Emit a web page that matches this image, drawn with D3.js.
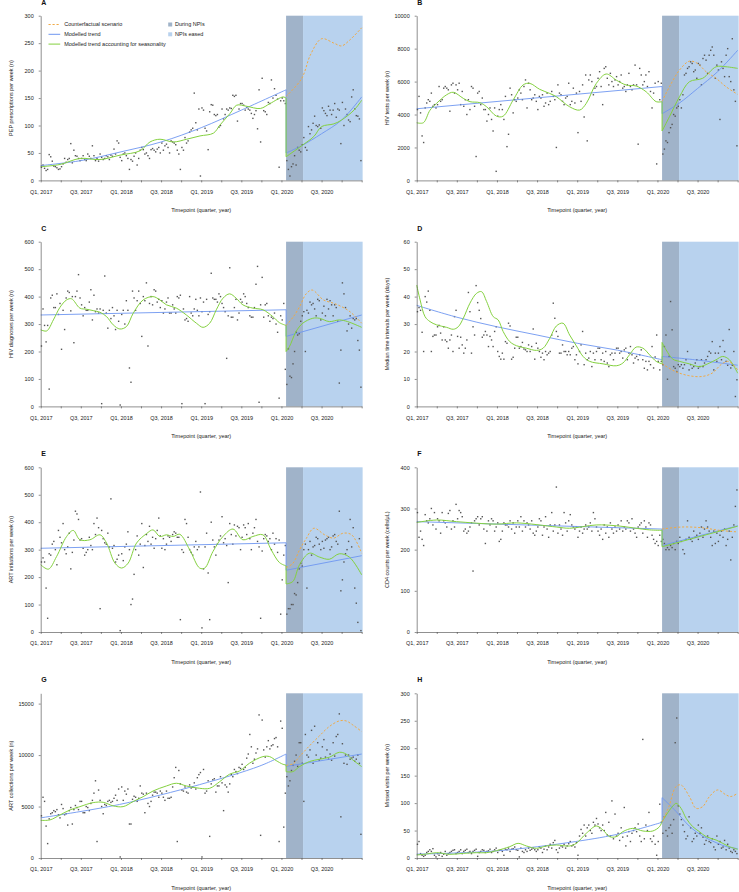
<!DOCTYPE html>
<html>
<head>
<meta charset="utf-8">
<script src="https://cdn.jsdelivr.net/npm/d3@7"></script>
<style>
    body { margin: 0; background: #fff; }
    svg { font-family: 'Liberation Sans', Arial, sans-serif; }
</style>
</head>
<body>
<svg id="chart" width="739" height="892"></svg>
<script>

// Quarter ticks (13 weeks each), labelled every other quarter
const QUARTER_LABELS = ['Q1, 2017', 'Q3, 2017', 'Q1, 2018', 'Q3, 2018', 'Q1, 2019', 'Q3, 2019', 'Q1, 2020', 'Q3, 2020']
const TOTAL_WEEKS = 208
const NPI_START = 159   // week index, late Jan 2020
const NPI_END = 170     // NPIs eased, early Apr 2020

// Weekly observations, one row per quarter (13 weeks)
const ptsA = [
    24,28,22,18,20,47,43,35,26,25,23,20,21,
    25,30,40,33,38,40,67,32,55,45,44,40,36,
    40,45,38,36,48,44,40,63,45,36,40,35,48,
    42,38,40,45,43,38,46,44,57,48,72,68,42,
    36,48,50,45,40,20,38,35,44,50,28,40,55,
    60,56,48,50,45,40,56,58,55,52,57,60,50,
    68,55,63,66,60,50,72,70,68,65,55,48,20,
    60,55,78,68,72,88,92,95,159,105,92,130,8,
    132,128,95,90,56,125,138,137,120,118,120,97,100,
    130,112,120,130,128,132,131,155,153,155,108,130,140,
    140,137,128,133,130,128,122,113,120,127,94,165,70,
    186,127,125,120,142,140,183,150,167,155,148,24,145,
    150,145,140,36,20,8,25,30,45,28,60,55,52,
    65,78,60,55,98,85,92,104,117,100,98,101,95,
    132,127,122,118,135,128,120,128,140,115,130,128,67,
    142,100,130,120,110,107,152,165,130,118,117,112,36
]
const ptsB = [
    4300,5100,4100,2700,2300,4400,4700,4900,4800,5300,4500,4600,4400,
    4600,5700,4800,4900,5600,5700,5600,5500,4200,5800,5900,5300,5800,
    5500,5900,4600,5400,4500,4900,4000,4900,4300,5700,5600,4500,1450,
    5300,5400,4600,5000,4300,4300,3600,4000,4400,3700,3000,4400,550,
    3900,4300,4600,4300,3700,5100,2050,2800,5600,5200,4100,4900,4800,
    5000,5500,5300,4900,5700,6100,4400,5900,5500,4900,5000,5200,4800,
    4300,5100,5000,5200,4500,4700,5300,4600,4800,5400,5100,4900,2000,
    5800,5300,5200,4800,4600,5000,5100,5900,4600,4800,5600,4700,5300,
    2900,5400,4800,5800,3850,6400,2400,6100,6400,6000,5200,5600,5700,
    6200,6600,5700,4600,6800,6900,6200,5800,6500,6000,5700,6100,6300,
    5800,6000,6400,5600,5700,5400,5800,6500,5700,5500,5800,7000,5800,
    2200,6800,6400,5800,6000,6400,5700,6600,5400,4400,5300,5900,1000,
    6000,4900,5900,1600,1900,2400,2300,2900,3200,3400,4000,3900,4400,
    4500,4900,4400,5200,6400,6500,6800,6900,7200,7100,6600,6700,6200,
    7100,7000,5800,7400,7600,7300,6500,7600,7900,8100,7600,6200,7000,
    6700,3700,7200,6800,6300,7600,8000,6300,6000,8600,5500,4800,2100
]
const ptsC = [
    220,355,295,235,295,63,395,405,360,360,410,335,375,
    208,350,280,395,420,415,348,400,232,400,420,480,395,
    370,330,360,350,350,380,425,315,405,345,355,340,355,
    10,350,475,340,285,350,320,360,330,280,350,310,5,
    335,350,300,385,350,140,88,420,395,350,385,420,375,
    255,400,385,450,220,375,400,370,425,420,380,390,360,
    385,340,355,380,395,340,340,370,355,340,400,395,405,
    10,355,315,320,310,400,340,330,355,390,350,330,395,
    345,380,10,390,335,345,485,395,390,390,380,410,400,
    375,360,345,175,330,505,325,325,360,390,315,340,390,
    380,410,400,375,360,330,325,325,360,445,510,15,370,
    470,325,370,375,330,310,325,320,340,300,270,30,330,
    315,375,135,80,210,110,105,155,200,270,260,265,310,
    330,345,200,350,340,380,370,375,355,330,390,385,315,
    340,365,330,390,355,385,370,330,370,360,310,85,205,
    450,410,360,275,300,330,285,320,315,320,240,205,70
]
const ptsD = [
    34.5,36,35,27,20,40,38,42,35,20,25.5,26,26,
    29,29.5,26.7,24.2,29,24.2,23.6,21.2,24.2,26,20,32.7,35,
    25.5,21.2,25.2,22.4,19.4,21.2,24.2,41.5,34.5,19.4,29,26,44,
    37.8,35,32,25.2,26,27.3,26,21.8,25.5,24.2,21.8,27.3,29,
    20,18.2,17.2,19.4,17.2,23.6,23,30.3,29.3,17.2,17.9,21.2,25.2,
    25.2,21.2,21.8,23.3,20.9,20.6,20,22.4,20,21.8,28.2,17.2,23,
    21.2,20,17.9,19.4,17,20,18.8,19.4,20,26,37.6,32.1,27.3,
    25.5,19.4,19.4,22.4,20,20,18.8,20,18.8,21.2,21.8,17,18.8,
    15.5,20,22.4,27.3,15.2,19.4,17,17.6,20,14.5,19.4,17,20,
    21.2,21.2,17,19.4,16.4,20,15.8,14.5,18.8,19.4,17,19.4,21.2,
    21.2,19.4,20,17.6,20.6,21.2,17,19.4,21.8,18.8,15.8,17.6,18.2,
    17,18.8,20.6,17,13.9,16.4,13.3,16.4,15.2,21.8,14,18,26,
    16.4,13.3,16.4,15.2,21.8,26,9.9,18.2,38.2,27.9,14.5,13.9,12.7,
    15.2,14.5,15.2,13.9,15.2,17,20,13.3,15.2,13.9,14.5,15.8,17,
    13.9,14.5,17,14.5,15.8,17,18.2,20,19.4,23.6,13.3,19.4,16.4,
    19.4,21.8,17,24,20,16.4,15,28,14,15,20,3.6,9.7
]
const ptsE = [
    255,270,255,160,50,285,280,320,330,300,245,370,345,
    325,395,300,285,310,360,230,290,335,440,430,410,335,
    340,305,280,290,300,345,315,300,395,355,415,380,85,
    370,340,325,320,360,310,485,305,315,255,265,280,5,
    285,260,310,320,365,300,100,120,210,300,350,280,320,
    395,235,315,355,330,385,320,345,305,340,370,415,350,
    305,340,300,320,350,345,330,355,365,360,345,345,45,
    300,290,410,395,345,300,290,280,310,330,300,310,510,
    15,230,310,360,215,45,400,335,310,280,320,335,350,
    420,325,340,315,180,395,355,320,390,350,385,380,300,
    345,390,380,355,395,340,300,360,380,410,330,310,50,
    295,340,355,350,330,340,300,360,320,340,290,335,65,
    190,280,315,65,85,85,100,100,140,135,180,230,250,
    240,300,320,160,300,330,280,310,315,345,340,320,300,
    330,305,335,340,345,300,310,350,355,330,320,440,150,
    190,255,285,300,330,410,310,380,160,105,35,340,5
]
const ptsF = [
    290,230,245,225,210,285,270,265,275,300,260,290,250,
    275,270,240,290,270,265,255,288,295,250,270,255,310,
    275,295,290,280,245,250,240,245,255,265,148,270,275,
    280,260,275,280,250,215,245,270,260,275,270,245,255,
    265,220,225,245,265,260,260,255,270,250,265,240,255,
    270,255,280,245,270,255,265,260,250,270,240,235,245,
    255,275,270,235,255,280,250,230,260,290,245,260,352,
    240,260,250,235,290,265,245,270,285,260,255,250,255,
    230,245,255,240,250,260,250,255,265,245,290,275,255,
    245,235,250,225,260,240,255,230,265,250,240,255,245,
    260,250,270,245,255,250,270,265,245,275,250,240,230,
    255,260,265,240,270,255,230,265,260,235,225,215,220,
    210,235,220,225,215,200,205,200,210,205,215,200,220,
    215,230,220,200,190,225,270,230,225,220,245,230,235,
    225,240,255,230,250,270,255,245,230,210,245,215,240,
    220,235,245,230,250,210,225,245,175,230,260,305,345
]
const ptsG = [
    4100,5900,5500,3100,1400,3800,4300,4400,4600,4500,4700,4200,3900,
    5200,4800,4200,4300,3200,4600,4900,3300,4700,5100,4900,4700,5500,
    5500,4400,4400,5000,4900,4600,5300,5600,6300,7500,1600,6600,5600,
    5000,4300,5200,5100,5500,5600,5400,5500,5800,6100,5600,6700,100,
    6900,5600,6500,6200,6700,3300,3300,5700,6000,5900,5500,5800,7000,
    6300,6200,4400,6300,5300,5000,5500,6100,6400,6400,6300,5900,6500,
    6300,5900,5600,6500,5800,5800,5900,6900,7800,8800,1600,8500,7200,
    6600,6500,6900,6400,6300,7100,6800,6900,7300,6700,7800,8100,8300,
    100,8600,6300,6500,7500,2100,7200,7600,7700,6400,7000,7000,7900,
    7300,4600,7100,6900,6400,7200,8100,7900,8600,8400,8200,8800,8700,
    9100,8600,8800,9700,10100,12000,10800,9200,9600,10200,10600,13900,2200,
    13400,10500,9800,10800,11400,10600,10900,11000,11600,11700,10800,1600,13300,
    12600,3000,6300,7900,7000,7500,8500,9000,9400,10000,8900,11200,11200,
    9200,5500,12000,10000,9800,10500,12400,9200,12800,10000,11200,9500,9700,
    10800,11500,9800,10500,9600,10100,9500,11200,9900,11800,12000,14000,4000,
    11100,9200,10000,9100,10000,9600,9700,9800,9400,9600,10000,9200,2300
]
const ptsH = [
    25,30,8,5,3,5,10,12,15,12,17,5,2,
    8,5,10,3,7,12,5,8,10,12,14,15,8,
    10,12,15,8,12,14,16,10,12,8,12,14,16,
    3,10,12,15,14,10,12,13,16,10,12,15,18,
    10,14,15,12,5,16,15,18,12,16,17,20,15,
    14,2,18,12,10,15,12,18,14,16,18,15,12,
    15,20,18,10,16,22,15,20,25,18,28,32,15,
    10,18,22,20,25,18,22,26,30,22,24,20,28,
    5,40,52,45,60,40,55,60,50,45,65,60,72,
    62,55,50,60,50,83,42,65,40,104,35,80,40,
    45,32,55,38,92,22,40,48,30,45,50,55,48,
    62,40,30,216,35,60,50,83,35,30,40,25,5,
    30,98,65,45,75,50,40,55,60,45,70,210,255,
    95,80,70,60,48,35,40,75,55,30,35,45,40,
    60,45,55,38,25,32,40,30,28,35,20,15,40,
    25,30,18,20,32,15,25,18,12,10,15,12,8
]

// Modelled lines as [week, value] knots
const trendPreA = [[0,27],[26,36],[52,52],[78,70],[104,96],[130,128],[159,165]]
const trendPostA = [[159,50],[169,63],[182,85],[195,110],[208,152]]
const seasPreA = [[0,25],[12.5,29],[25.5,40],[38.4,38],[51.4,46],[64.4,54],[70.8,70],[77.3,75],[86,70],[94.6,75],[103.2,81],[111.9,86],[116.2,101],[122.7,122],[127,137],[133.5,135],[142.3,131],[148.6,140],[157,152],[159,150]]
const seasPostA = [[159,43],[169,63],[177,80],[182,98],[190,103],[195,110],[203,128],[208,146]]
const cfA = [[159,153],[169,185],[175,230],[182,258],[190,250],[195,245],[200,255],[208,278]]

const trendPreB = [[0,4350],[159,5700]]
const trendPostB = [[159,4050],[170,4680],[182,5580],[195,6600],[208,7900]]
const seasPreB = [[0,3500],[4.3,3500],[8.6,4260],[12.9,4680],[19.4,5200],[23.7,5350],[30.2,4980],[34.5,4780],[40.9,4720],[45.3,4470],[51.7,3900],[56,3900],[62.5,4880],[69,5800],[73.3,5890],[79.7,5530],[86.2,5280],[90.5,5080],[99.1,4470],[105.6,4270],[109.9,4680],[116.4,5890],[122.8,6460],[129.3,6090],[135.8,5790],[142.2,5730],[148.7,5380],[155.2,4780],[159,4780]]
const seasPostB = [[159,3000],[163.8,3870],[170.3,5080],[176.7,5990],[185.3,6200],[194,6900],[200.4,6900],[208,6800]]
const cfB = [[159,4800],[163.8,5690],[170.3,6700],[176.7,7240],[182,7100],[187.5,6600],[194,6200],[200.4,5690],[208,5220]]

const trendPreC = [[0,333],[159,352]]
const trendPostC = [[159,255],[208,333]]
const seasPreC = [[0,279],[3.9,275],[8.2,315],[12.5,361],[16.8,388],[20,392],[25.4,358],[29.7,354],[34,349],[38.4,343],[42.7,327],[47,297],[51.3,282],[55.6,291],[59.9,339],[66.4,388],[72.8,400],[77.2,388],[81.5,370],[87.9,358],[94.4,333],[100.9,303],[105.2,288],[109.5,303],[113.8,352],[118.1,394],[122.4,410],[126.7,394],[131,370],[137.5,358],[144,352],[150.4,327],[154.7,305],[159,295]]
const seasPostC = [[159,200],[161.2,218],[165.5,273],[169.8,303],[176.3,321],[180.6,321],[187,309],[193.5,315],[198.9,309],[204.3,297],[208,288]]
const cfC = [[159,295],[163.8,327],[168,366],[172,410],[175.9,424],[183.2,388],[189.7,376],[194,366],[200.4,345],[208,303]]

const trendPreD = [[0,36.8],[26,32.5],[52,29],[78,26],[104,23],[130,20.5],[159,17]]
const trendPostD = [[159,18.2],[180,17],[208,15]]
const seasPreD = [[0,44.2],[2.2,38.8],[5.4,32.7],[8.6,30.9],[12.9,29.7],[19.4,28.8],[23.7,28.1],[26.9,29],[30.2,32.1],[34.5,37.6],[38.8,41.2],[42,41.8],[45.3,38.2],[49.6,32.7],[52.8,31.5],[56,27.3],[60.3,23.6],[64.7,22.1],[71.1,21.2],[77.6,20.4],[81.9,21.2],[86.2,24.8],[90.5,29.3],[94.8,30.3],[99.1,26],[103.4,22.1],[107.8,18.2],[112.1,16.4],[120.7,15.5],[129.3,14.8],[133.6,15.8],[137.9,18.8],[142.2,21.6],[146.6,21.2],[150.9,18.8],[155.2,16.4],[159,15.5]]
const seasPostD = [[159,23.3],[161.6,20.6],[166,17.2],[170.3,16.4],[176.7,15.5],[183.2,14.5],[189.7,15.8],[194,17],[198.3,18.2],[202.6,17],[208,12.1]]
const cfD = [[159,15.5],[167.7,12.7],[176.3,11.2],[184.9,10.9],[191.4,12.1],[197.8,15.5],[202.2,16.4],[208,13.3]]

const trendPreE = [[0,305],[159,325]]
const trendPostE = [[159,225],[208,278]]
const seasPreE = [[0,245],[5,229],[10.3,275],[16.8,348],[21.1,370],[25.4,336],[31.9,336],[38.4,354],[42.7,324],[48.1,251],[52.4,233],[56.7,251],[62.1,324],[68.5,358],[72.8,372],[77.2,348],[81.5,354],[85.8,348],[90.1,356],[96.6,299],[103,233],[106.3,233],[111.6,293],[118.1,348],[124.6,375],[131,336],[137.5,348],[144,354],[149.4,299],[154.7,253],[159,241]]
const seasPostE = [[159,175],[163.4,184],[167.7,245],[174.1,287],[180.6,273],[187,265],[193.5,285],[200,273],[208,208]]
const cfE = [[159,235],[163.4,250],[167.7,299],[172,340],[177,378],[184,354],[189.7,342],[196,360],[201.5,354],[208,287]]

const trendPreF = [[0,268],[159,250]]
const trendPostF = [[159,210],[208,258]]
const seasPreF = [[0,266],[12.9,272],[25.8,268],[51.7,262],[64.7,265],[90.5,255],[99.1,252],[116.4,260],[129.3,258],[150.9,248],[159,247]]
const seasPostF = [[159,207],[208,257]]
const cfF = [[159,250],[172,255],[185.3,253],[196,247],[208,243]]

const trendPreG = [[0,3900],[51,5200],[103,7130],[142,8940],[159,10100]]
const trendPostG = [[159,8900],[208,10100]]
const seasPreG = [[0,3660],[6,3700],[12.5,4180],[19,4670],[25.4,4990],[34,5380],[40.5,5410],[47,5060],[53.4,4990],[59.9,5480],[66.4,5960],[72.8,6510],[81.5,7000],[87.9,7260],[94.4,7000],[103,6770],[109.5,6770],[116,7420],[122.4,8140],[128.9,8460],[135.3,9210],[144,9850],[148.3,9850],[152.6,9460],[156.9,9110],[159,9040]]
const seasPostG = [[159,8390],[163.4,8390],[167.7,8880],[174.1,9370],[180.6,9590],[187,9790],[193.5,10270],[197.8,10110],[202.2,9530],[208,8880]]
const cfG = [[159,9000],[163.4,9140],[167.7,9850],[174.1,10890],[180.6,11860],[187,12770],[193.5,13320],[197.8,13320],[202.2,12930],[208,12280]]

const trendPreH = [[0,7],[52,13],[103,30],[133,45],[159,65]]
const trendPostH = [[159,110],[168,85],[176.7,58],[185.3,40],[194,28],[200.4,21],[208,17]]
const seasPreH = [[0,5.5],[6.5,7.3],[12.9,9.7],[21.6,6.7],[30.2,8.5],[38.8,9.7],[45.3,9.7],[51.7,13.4],[60.3,20.7],[65.7,26.7],[71.1,21.9],[77.6,17.6],[84,21.9],[90.5,23.7],[99.1,21.9],[103.4,26.7],[109.9,45],[116.4,58.3],[120.7,51],[125,38.9],[129.3,38.9],[133.6,48],[140,54],[146.6,49.2],[153,49.2],[157.3,57],[159,66]]
const seasPostH = [[159,66],[161.6,78],[166,94.8],[168.1,99.6],[171.3,90.5],[174.6,72.3],[178.9,57],[183.2,48],[187.5,38.9],[194,32.8],[198.3,26.7],[202.6,20.7],[208,15.8]]
const cfH = [[159,66],[163.4,93.5],[168,130],[171.3,133],[176.7,112],[181,90.5],[185.3,93.5],[189.7,112],[195,124],[200.4,115],[203.7,112],[208,118]]

const panelLetters = ['A', 'B', 'C', 'D', 'E', 'F', 'G', 'H']
const yLabels = [
    'PEP prescriptions per week (n)',
    'HIV tests per week (n)',
    'HIV diagnoses per week (n)',
    'Median time intervals per week (days)',
    'ART initiations per week (n)',
    'CD4 counts per week (cells/\u03bcL)',
    'ART collections per week (n)',
    'Missed visits per week (n)'
]
const yMaxes = [300, 10000, 600, 60, 600, 400, 16000, 300]
const yTickSets = [
    d3.range(0, 301, 50),
    d3.range(0, 10001, 2000),
    d3.range(0, 601, 100),
    d3.range(0, 61, 10),
    d3.range(0, 601, 100),
    d3.range(0, 401, 100),
    [0, 5000, 10000, 15000],
    d3.range(0, 301, 50)
]

const panels = panelLetters.map((letter, i) => ({
    letter,
    yLabel: yLabels[i],
    yMax: yMaxes[i],
    yTicks: yTickSets[i],
    points: [ptsA, ptsB, ptsC, ptsD, ptsE, ptsF, ptsG, ptsH][i],
    trend: [[trendPreA, trendPostA], [trendPreB, trendPostB], [trendPreC, trendPostC], [trendPreD, trendPostD],
            [trendPreE, trendPostE], [trendPreF, trendPostF], [trendPreG, trendPostG], [trendPreH, trendPostH]][i],
    seas: [[seasPreA, seasPostA], [seasPreB, seasPostB], [seasPreC, seasPostC], [seasPreD, seasPostD],
           [seasPreE, seasPostE], [seasPreF, seasPostF], [seasPreG, seasPostG], [seasPreH, seasPostH]][i],
    cf: [cfA, cfB, cfC, cfD, cfE, cfF, cfG, cfH][i]
}))

// Layout
const colX = [40.7, 416.7]
const rowY = [15.7, 241.7, 467.3, 693.3]
const plotW = 321
const plotH = 164.7

const COLORS = {
    during: '#a0b3c9',
    eased: '#b8d2ee',
    trend: '#6e96f0',
    seas: '#84d13f',
    cf: '#f0aa46',
    point: '#555',
    axis: '#444',
    text: '#222'
}

const svg = d3.select('#chart')

function drawPanel(p, i) {
    const left = colX[i % 2]
    const top = rowY[Math.floor(i / 2)]
    const g = svg.append('g').attr('transform', `translate(${left}, ${top})`)

    const x = d3.scaleLinear().domain([0, TOTAL_WEEKS]).range([0, plotW])
    const y = d3.scaleLinear().domain([0, p.yMax]).range([plotH, 0])

    // NPI shading
    g.append('rect')
        .attr('x', x(NPI_START)).attr('y', 0)
        .attr('width', x(NPI_END) - x(NPI_START)).attr('height', plotH)
        .attr('fill', COLORS.during)
    g.append('rect')
        .attr('x', x(NPI_END)).attr('y', 0)
        .attr('width', x(TOTAL_WEEKS + 0.6) - x(NPI_END)).attr('height', plotH)
        .attr('fill', COLORS.eased)

    // Weekly points
    g.append('g').selectAll('rect')
        .data(p.points)
        .join('rect')
            .attr('x', (d, k) => x(k + 0.5) - 0.7)
            .attr('y', d => y(d) - 0.7)
            .attr('width', 1.4)
            .attr('height', 1.4)
            .attr('fill', COLORS.point)

    const line = d3.line()
        .x(d => x(d[0]))
        .y(d => y(d[1]))
        .curve(d3.curveCatmullRom.alpha(0.5))

    // pre and post segments joined by a straight step at the NPI start
    const joined = ([pre, post]) => line(pre) + line(post).replace(/^M/, 'L')

    g.append('path')
        .attr('d', joined(p.trend))
        .attr('fill', 'none').attr('stroke', COLORS.trend).attr('stroke-width', 0.9)

    g.append('path')
        .attr('d', joined(p.seas))
        .attr('fill', 'none').attr('stroke', COLORS.seas).attr('stroke-width', 1)

    g.append('path')
        .attr('d', line(p.cf))
        .attr('fill', 'none').attr('stroke', COLORS.cf).attr('stroke-width', 1)
        .attr('stroke-dasharray', '2.2,1.8')

    // Axes
    const xAxis = d3.axisBottom(x)
        .tickValues(d3.range(0, TOTAL_WEEKS + 1, 13))
        .tickFormat(d => (d % 26 === 0 && d < TOTAL_WEEKS) ? QUARTER_LABELS[d / 26] : '')
        .tickSize(2)
        .tickSizeOuter(0)
        .tickPadding(7.5)

    const yAxis = d3.axisLeft(y)
        .tickValues(p.yTicks)
        .tickFormat(d3.format('d'))
        .tickSize(2)
        .tickSizeOuter(0)
        .tickPadding(5)

    const xg = g.append('g').attr('transform', `translate(0, ${plotH})`).call(xAxis)
    const yg = g.append('g').call(yAxis)

    for (const ax of [xg, yg]) {
        ax.select('.domain').attr('stroke', COLORS.axis).attr('stroke-width', 0.6)
        ax.selectAll('.tick line').attr('stroke', COLORS.axis).attr('stroke-width', 0.6)
        ax.selectAll('.tick text').attr('fill', COLORS.text).style('font-size', '5.5px')
    }

    // Titles
    g.append('text')
        .attr('x', plotW / 2)
        .attr('y', plotH + 32)
        .attr('text-anchor', 'middle')
        .style('font-size', '5.5px')
        .attr('fill', COLORS.text)
        .text('Timepoint (quarter, year)')

    g.append('text')
        .attr('transform', `translate(-27.7, ${plotH / 2}) rotate(-90)`)
        .attr('text-anchor', 'middle')
        .style('font-size', '5.5px')
        .attr('fill', COLORS.text)
        .text(p.yLabel)

    g.append('text')
        .attr('x', 0.5)
        .attr('y', -11)
        .style('font-size', '7px')
        .style('font-weight', 'bold')
        .attr('fill', '#111')
        .text(p.letter)

    if (i === 0) drawLegend(g)
}

function drawLegend(g) {
    const lineItems = [
        { label: 'Counterfactual scenario', color: COLORS.cf, dash: '2.2,1.8' },
        { label: 'Modelled trend', color: COLORS.trend, dash: null },
        { label: 'Modelled trend accounting for seasonality', color: COLORS.seas, dash: null }
    ]
    lineItems.forEach((item, k) => {
        const yy = 8.8 + k * 9.8
        g.append('line')
            .attr('x1', 7.8).attr('x2', 19.5)
            .attr('y1', yy).attr('y2', yy)
            .attr('stroke', item.color).attr('stroke-width', 1)
            .attr('stroke-dasharray', item.dash)
        g.append('text')
            .attr('x', 23.5).attr('y', yy + 1.9)
            .style('font-size', '5.5px')
            .attr('fill', COLORS.text)
            .text(item.label)
    })

    const boxItems = [
        { label: 'During NPIs', color: COLORS.during },
        { label: 'NPIs eased', color: COLORS.eased }
    ]
    boxItems.forEach((item, k) => {
        const yy = 8.8 + k * 9.8
        g.append('rect')
            .attr('x', 127.5).attr('y', yy - 2)
            .attr('width', 4).attr('height', 4)
            .attr('fill', item.color)
        g.append('text')
            .attr('x', 134.3).attr('y', yy + 1.9)
            .style('font-size', '5.5px')
            .attr('fill', COLORS.text)
            .text(item.label)
    })
}

panels.forEach(drawPanel)

</script>
</body>
</html>
